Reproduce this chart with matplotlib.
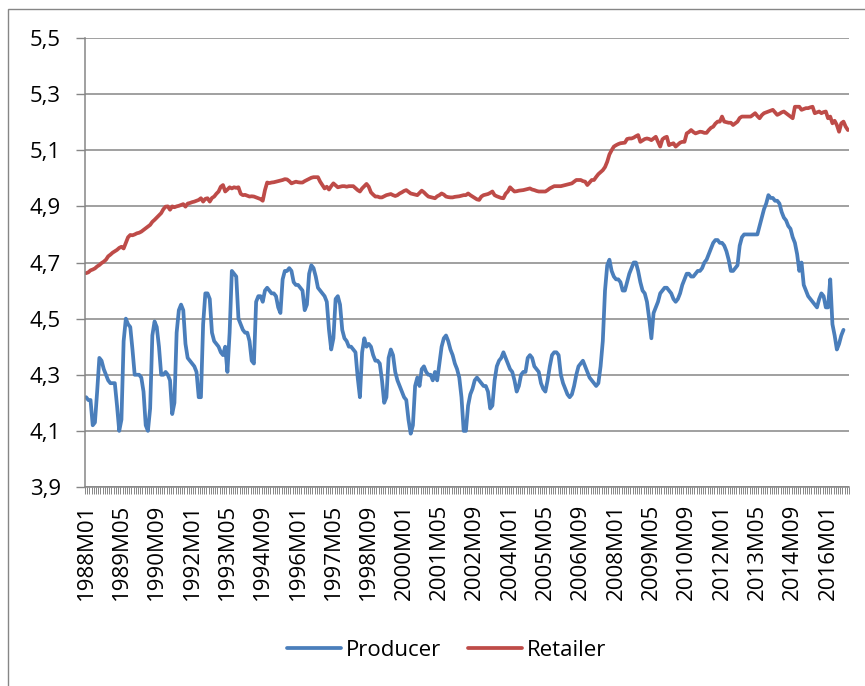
import numpy as np
import matplotlib
matplotlib.use("Agg")
import matplotlib.pyplot as plt
from matplotlib.patches import Rectangle

plt.rcParams['font.family'] = ['Open Sans', 'DejaVu Sans']

# monthly categories 1988M01 .. 2016M10
years = list(range(1988, 2017))
months = ["M%02d" % m for m in range(1, 13)]
categories = [str(y) + m for y in years for m in months][:346]
label_every = 16

# log prices, one row per year
producer = [
    4.22, 4.21, 4.21, 4.12, 4.13, 4.24, 4.36, 4.35, 4.32, 4.30, 4.28, 4.27,
    4.27, 4.27, 4.19, 4.10, 4.14, 4.42, 4.50, 4.48, 4.47, 4.39, 4.30, 4.30,
    4.30, 4.29, 4.24, 4.12, 4.10, 4.18, 4.44, 4.49, 4.47, 4.40, 4.30, 4.30,
    4.31, 4.30, 4.28, 4.16, 4.20, 4.45, 4.53, 4.55, 4.53, 4.41, 4.36, 4.35,
    4.34, 4.33, 4.31, 4.22, 4.22, 4.48, 4.59, 4.59, 4.57, 4.45, 4.42, 4.41,
    4.40, 4.38, 4.37, 4.40, 4.31, 4.45, 4.67, 4.66, 4.65, 4.50, 4.48, 4.46,
    4.45, 4.45, 4.42, 4.35, 4.34, 4.56, 4.58, 4.58, 4.56, 4.60, 4.61, 4.60,
    4.59, 4.59, 4.58, 4.54, 4.52, 4.64, 4.67, 4.67, 4.68, 4.67, 4.63, 4.62,
    4.62, 4.61, 4.60, 4.53, 4.55, 4.66, 4.69, 4.68, 4.65, 4.61, 4.60, 4.59,
    4.58, 4.56, 4.46, 4.39, 4.43, 4.57, 4.58, 4.55, 4.46, 4.43, 4.42, 4.40,
    4.40, 4.39, 4.38, 4.29, 4.22, 4.38, 4.43, 4.40, 4.41, 4.40, 4.37, 4.35,
    4.35, 4.34, 4.28, 4.20, 4.22, 4.36, 4.39, 4.37, 4.31, 4.28, 4.26, 4.24,
    4.22, 4.21, 4.14, 4.09, 4.12, 4.26, 4.29, 4.26, 4.32, 4.33, 4.31, 4.30,
    4.30, 4.28, 4.31, 4.28, 4.34, 4.40, 4.43, 4.44, 4.42, 4.39, 4.37, 4.34,
    4.32, 4.29, 4.22, 4.10, 4.10, 4.19, 4.23, 4.25, 4.28, 4.29, 4.28, 4.27,
    4.26, 4.26, 4.24, 4.18, 4.19, 4.28, 4.33, 4.35, 4.36, 4.38, 4.36, 4.34,
    4.32, 4.31, 4.28, 4.24, 4.26, 4.30, 4.31, 4.31, 4.36, 4.37, 4.36, 4.33,
    4.32, 4.31, 4.27, 4.25, 4.24, 4.28, 4.33, 4.37, 4.38, 4.38, 4.37, 4.30,
    4.27, 4.25, 4.23, 4.22, 4.23, 4.26, 4.30, 4.33, 4.34, 4.35, 4.33, 4.31,
    4.29, 4.28, 4.27, 4.26, 4.27, 4.33, 4.42, 4.60, 4.69, 4.71, 4.67, 4.65,
    4.64, 4.64, 4.63, 4.60, 4.60, 4.63, 4.66, 4.68, 4.70, 4.70, 4.67, 4.63,
    4.60, 4.59, 4.56, 4.50, 4.43, 4.52, 4.54, 4.56, 4.59, 4.60, 4.61, 4.61,
    4.60, 4.59, 4.57, 4.56, 4.57, 4.59, 4.62, 4.64, 4.66, 4.66, 4.65, 4.65,
    4.66, 4.67, 4.67, 4.68, 4.70, 4.71, 4.73, 4.75, 4.77, 4.78, 4.78, 4.77,
    4.77, 4.76, 4.74, 4.71, 4.67, 4.67, 4.68, 4.69, 4.76, 4.79, 4.80, 4.80,
    4.80, 4.80, 4.80, 4.80, 4.80, 4.83, 4.86, 4.89, 4.91, 4.94, 4.93, 4.93,
    4.92, 4.92, 4.91, 4.88, 4.86, 4.85, 4.83, 4.82, 4.79, 4.77, 4.73, 4.67,
    4.70, 4.62, 4.60, 4.58, 4.57, 4.56, 4.55, 4.54, 4.57, 4.59, 4.58, 4.54,
    4.54, 4.64, 4.48, 4.44, 4.39, 4.41, 4.44, 4.46, np.nan, np.nan,
]

retailer = [
    4.662, 4.665, 4.672, 4.675, 4.679, 4.686, 4.691, 4.698, 4.703, 4.710, 4.722, 4.728,
    4.735, 4.740, 4.745, 4.752, 4.756, 4.750, 4.770, 4.790, 4.798, 4.797, 4.800, 4.804,
    4.806, 4.810, 4.816, 4.822, 4.828, 4.834, 4.845, 4.852, 4.860, 4.868, 4.876, 4.890,
    4.899, 4.900, 4.888, 4.900, 4.897, 4.900, 4.902, 4.905, 4.908, 4.899, 4.910, 4.912,
    4.915, 4.917, 4.920, 4.923, 4.929, 4.917, 4.927, 4.929, 4.917, 4.930, 4.935, 4.945,
    4.953, 4.970, 4.976, 4.953, 4.960, 4.968, 4.964, 4.968, 4.966, 4.968, 4.945, 4.940,
    4.941, 4.938, 4.935, 4.936, 4.935, 4.932, 4.929, 4.926, 4.920, 4.958, 4.985, 4.983,
    4.985, 4.986, 4.988, 4.990, 4.992, 4.994, 4.997, 4.996, 4.990, 4.982, 4.985, 4.988,
    4.986, 4.985, 4.985, 4.990, 4.994, 4.998, 5.002, 5.004, 5.004, 5.004, 4.988, 4.976,
    4.964, 4.970, 4.960, 4.972, 4.982, 4.975, 4.968, 4.970, 4.972, 4.972, 4.970, 4.972,
    4.972, 4.972, 4.965, 4.958, 4.953, 4.964, 4.972, 4.980, 4.970, 4.950, 4.942, 4.935,
    4.935, 4.932, 4.932, 4.936, 4.940, 4.942, 4.944, 4.940, 4.937, 4.940, 4.946, 4.950,
    4.955, 4.958, 4.952, 4.946, 4.944, 4.942, 4.940, 4.948, 4.956, 4.950, 4.942, 4.935,
    4.933, 4.931, 4.929, 4.936, 4.940, 4.946, 4.942, 4.935, 4.933, 4.932, 4.932, 4.934,
    4.935, 4.936, 4.938, 4.940, 4.940, 4.946, 4.940, 4.935, 4.930, 4.925, 4.923, 4.935,
    4.940, 4.942, 4.944, 4.948, 4.953, 4.940, 4.936, 4.933, 4.930, 4.929, 4.945, 4.953,
    4.968, 4.960, 4.953, 4.954, 4.956, 4.957, 4.958, 4.960, 4.962, 4.964, 4.960, 4.958,
    4.955, 4.953, 4.953, 4.953, 4.953, 4.958, 4.964, 4.968, 4.972, 4.972, 4.972, 4.972,
    4.974, 4.976, 4.978, 4.980, 4.982, 4.988, 4.994, 4.994, 4.994, 4.990, 4.988, 4.976,
    4.985, 4.994, 4.994, 5.005, 5.015, 5.022, 5.029, 5.040, 5.059, 5.085, 5.100, 5.113,
    5.118, 5.122, 5.125, 5.126, 5.127, 5.140, 5.142, 5.142, 5.145, 5.150, 5.154, 5.130,
    5.135, 5.140, 5.142, 5.140, 5.136, 5.142, 5.148, 5.130, 5.113, 5.139, 5.145, 5.148,
    5.118, 5.122, 5.125, 5.113, 5.120, 5.127, 5.130, 5.130, 5.160, 5.165, 5.172, 5.165,
    5.160, 5.163, 5.166, 5.165, 5.162, 5.162, 5.172, 5.180, 5.184, 5.195, 5.202, 5.202,
    5.220, 5.202, 5.200, 5.198, 5.198, 5.190, 5.196, 5.202, 5.215, 5.220, 5.220, 5.220,
    5.220, 5.220, 5.226, 5.232, 5.222, 5.214, 5.225, 5.232, 5.235, 5.238, 5.241, 5.244,
    5.235, 5.226, 5.230, 5.235, 5.238, 5.232, 5.226, 5.220, 5.214, 5.255, 5.255, 5.255,
    5.244, 5.247, 5.250, 5.250, 5.253, 5.255, 5.232, 5.235, 5.238, 5.232, 5.236, 5.238,
    5.214, 5.220, 5.196, 5.205, 5.190, 5.166, 5.196, 5.202, 5.184, 5.172,
]

y_ticks = [3.9, 4.1, 4.3, 4.5, 4.7, 4.9, 5.1, 5.3, 5.5]

blue = '#4A7EBB'
red = '#BE4B48'
grey = '#868686'

fig = plt.figure(figsize=(8.65, 6.86), dpi=100)
fig.patches.append(Rectangle((8 / 865, -0.1), 1.2, 1 - 9 / 686 + 0.1,
                             transform=fig.transFigure, fill=False,
                             edgecolor=grey, linewidth=1.0))
ax = fig.add_axes([85 / 865, 1 - 487 / 686, (849 - 85) / 865, (487 - 38) / 686])

x = np.arange(len(categories))
ax.plot(x, producer, color=blue, linewidth=2.7, label='Producer',
        solid_joinstyle='round', solid_capstyle='round')
ax.plot(x, retailer, color=red, linewidth=2.7, label='Retailer',
        solid_joinstyle='round', solid_capstyle='round')

ax.set_xlim(-0.5, len(categories) - 0.5)
ax.set_ylim(y_ticks[0], y_ticks[-1])
ax.set_yticks(y_ticks)
ax.set_yticklabels([("%.1f" % v).replace('.', ',') for v in y_ticks])
ax.grid(axis='y', color=grey, linewidth=1.1)
ax.set_axisbelow(True)

pos = x[::label_every]
ax.set_xticks(pos)
ax.set_xticklabels([categories[i] for i in pos], rotation=90)
ax.set_xticks(np.arange(len(categories) + 1) - 0.5, minor=True)
ax.tick_params(axis='x', which='major', length=0, pad=12, labelsize=16)
ax.tick_params(axis='x', which='minor', length=5, width=0.7, color=grey)
ax.tick_params(axis='y', length=6.5, width=1, color=grey, pad=11, labelsize=16)

for s in ['top', 'right']:
    ax.spines[s].set_visible(False)
for s in ['left', 'bottom']:
    ax.spines[s].set_color(grey)
    ax.spines[s].set_linewidth(1.1)

fig.legend(loc='center', bbox_to_anchor=(447 / 865, 1 - 650 / 686), ncol=2,
           frameon=False, fontsize=16, handlelength=2.4, handletextpad=0.25,
           columnspacing=1.2)

fig.savefig('out.png', dpi=100)
